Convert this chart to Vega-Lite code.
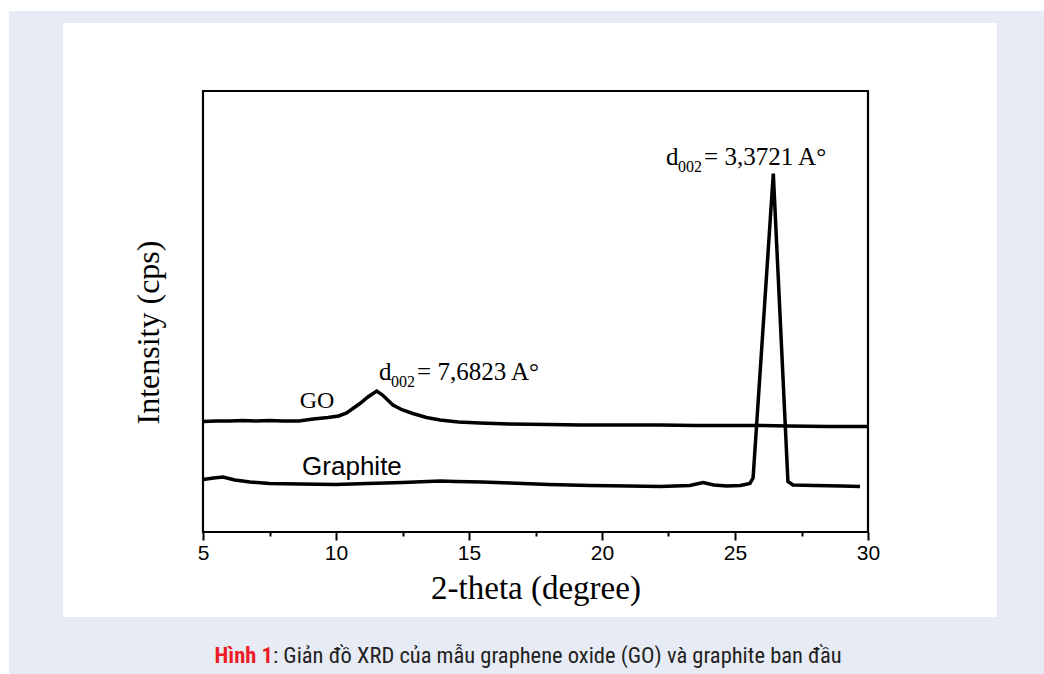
{
  "$schema": "https://vega.github.io/schema/vega-lite/v6.json",
  "width": 665,
  "height": 441,
  "autosize": {"type": "none"},
  "padding": {"left": 203, "top": 91, "right": 176, "bottom": 142},
  "background": "#e7ebf6",
  "config": {"view": {"stroke": null}},
  "datasets": {
    "xrd": [
      {"sample": "GO", "two_theta": 5.0, "intensity": 110.5},
      {"sample": "GO", "two_theta": 5.5, "intensity": 111},
      {"sample": "GO", "two_theta": 6.0, "intensity": 111},
      {"sample": "GO", "two_theta": 6.5, "intensity": 111.5},
      {"sample": "GO", "two_theta": 7.0, "intensity": 111},
      {"sample": "GO", "two_theta": 7.5, "intensity": 111.5},
      {"sample": "GO", "two_theta": 8.0, "intensity": 111},
      {"sample": "GO", "two_theta": 8.6, "intensity": 111},
      {"sample": "GO", "two_theta": 9.15, "intensity": 113},
      {"sample": "GO", "two_theta": 9.7, "intensity": 114.5},
      {"sample": "GO", "two_theta": 10.1, "intensity": 116},
      {"sample": "GO", "two_theta": 10.4, "intensity": 119},
      {"sample": "GO", "two_theta": 10.9, "intensity": 128.5},
      {"sample": "GO", "two_theta": 11.2, "intensity": 135},
      {"sample": "GO", "two_theta": 11.53, "intensity": 141},
      {"sample": "GO", "two_theta": 11.75, "intensity": 137},
      {"sample": "GO", "two_theta": 12.14, "intensity": 127},
      {"sample": "GO", "two_theta": 12.5, "intensity": 122},
      {"sample": "GO", "two_theta": 12.89, "intensity": 118.5},
      {"sample": "GO", "two_theta": 13.4, "intensity": 114.5},
      {"sample": "GO", "two_theta": 13.91, "intensity": 112},
      {"sample": "GO", "two_theta": 14.6, "intensity": 110},
      {"sample": "GO", "two_theta": 15.41, "intensity": 109},
      {"sample": "GO", "two_theta": 16.5, "intensity": 108},
      {"sample": "GO", "two_theta": 18.0, "intensity": 107.5},
      {"sample": "GO", "two_theta": 19.2, "intensity": 107},
      {"sample": "GO", "two_theta": 20.5, "intensity": 107},
      {"sample": "GO", "two_theta": 22.2, "intensity": 107},
      {"sample": "GO", "two_theta": 23.5, "intensity": 106.5},
      {"sample": "GO", "two_theta": 25.0, "intensity": 106.5},
      {"sample": "GO", "two_theta": 26.0, "intensity": 106.5},
      {"sample": "GO", "two_theta": 27.0, "intensity": 106},
      {"sample": "GO", "two_theta": 28.5, "intensity": 105.5},
      {"sample": "GO", "two_theta": 30.0, "intensity": 105.5},
      {"sample": "Graphite", "two_theta": 5.0, "intensity": 52.5},
      {"sample": "Graphite", "two_theta": 5.4, "intensity": 54},
      {"sample": "Graphite", "two_theta": 5.75, "intensity": 55},
      {"sample": "Graphite", "two_theta": 6.2, "intensity": 52},
      {"sample": "Graphite", "two_theta": 6.77, "intensity": 50},
      {"sample": "Graphite", "two_theta": 7.5, "intensity": 48.5},
      {"sample": "Graphite", "two_theta": 8.65, "intensity": 48},
      {"sample": "Graphite", "two_theta": 10.0, "intensity": 47.5},
      {"sample": "Graphite", "two_theta": 11.17, "intensity": 48.5},
      {"sample": "Graphite", "two_theta": 12.5, "intensity": 49.5},
      {"sample": "Graphite", "two_theta": 13.91, "intensity": 51},
      {"sample": "Graphite", "two_theta": 14.5, "intensity": 50.5},
      {"sample": "Graphite", "two_theta": 15.5, "intensity": 50},
      {"sample": "Graphite", "two_theta": 16.54, "intensity": 49},
      {"sample": "Graphite", "two_theta": 18.0, "intensity": 47.5},
      {"sample": "Graphite", "two_theta": 19.55, "intensity": 46.5},
      {"sample": "Graphite", "two_theta": 21.0, "intensity": 46},
      {"sample": "Graphite", "two_theta": 22.18, "intensity": 45.5},
      {"sample": "Graphite", "two_theta": 23.3, "intensity": 46.5},
      {"sample": "Graphite", "two_theta": 23.8, "intensity": 49.5},
      {"sample": "Graphite", "two_theta": 24.2, "intensity": 47},
      {"sample": "Graphite", "two_theta": 24.7, "intensity": 46},
      {"sample": "Graphite", "two_theta": 25.2, "intensity": 46.5},
      {"sample": "Graphite", "two_theta": 25.56, "intensity": 48.5},
      {"sample": "Graphite", "two_theta": 25.68, "intensity": 54},
      {"sample": "Graphite", "two_theta": 26.44, "intensity": 358.5},
      {"sample": "Graphite", "two_theta": 26.99, "intensity": 50.5},
      {"sample": "Graphite", "two_theta": 27.18, "intensity": 47},
      {"sample": "Graphite", "two_theta": 28.0, "intensity": 46.5},
      {"sample": "Graphite", "two_theta": 29.0, "intensity": 46},
      {"sample": "Graphite", "two_theta": 29.7, "intensity": 45.5}
    ],
    "names": [
      {"label": "GO", "two_theta": 9.29, "intensity": 124},
      {"label": "Graphite", "two_theta": 10.6, "intensity": 57}
    ],
    "peaks": [
      {"sample": "GO", "two_theta": 11.62, "intensity": 152, "d": "d", "sub": "002", "rest": "= 7,6823 A°"},
      {"sample": "Graphite", "two_theta": 22.41, "intensity": 367, "d": "d", "sub": "002", "rest": "= 3,3721 A°"}
    ]
  },
  "layer": [
    {
      "data": {"values": [{}]},
      "mark": {"type": "rect", "fill": "white"},
      "encoding": {
        "x": {"datum": -2.64, "type": "quantitative"},
        "x2": {"datum": -2.29},
        "y": {"datum": -150, "type": "quantitative"},
        "y2": {"datum": 540}
      }
    },
    {
      "data": {"values": [{}]},
      "mark": {"type": "rect", "fill": "white"},
      "encoding": {
        "x": {"datum": -2.64, "type": "quantitative"},
        "x2": {"datum": 36.7},
        "y": {"datum": 521, "type": "quantitative"},
        "y2": {"datum": 540}
      }
    },
    {
      "data": {"values": [{}]},
      "mark": {"type": "rect", "fill": "white"},
      "encoding": {
        "x": {"datum": -0.263, "type": "quantitative"},
        "x2": {"datum": 34.85},
        "y": {"datum": -85, "type": "quantitative"},
        "y2": {"datum": 509}
      }
    },
    {
      "data": {"name": "xrd"},
      "mark": {"type": "line", "stroke": "black", "strokeWidth": 3.5, "strokeJoin": "miter"},
      "encoding": {
        "x": {
          "field": "two_theta",
          "type": "quantitative",
          "scale": {"domain": [5, 30], "nice": false, "zero": false},
          "axis": {
            "title": "2-theta (degree)",
            "titleFont": "Liberation Serif",
            "titleFontSize": 33,
            "titleFontWeight": "normal",
            "titleColor": "black",
            "titleY": 66,
            "titleBaseline": "alphabetic",
            "values": [5, 7.5, 10, 12.5, 15, 17.5, 20, 22.5, 25, 27.5, 30],
            "labelExpr": "datum.value % 5 === 0 ? format(datum.value, 'd') : ''",
            "labelFont": "Liberation Sans",
            "labelFontSize": 21,
            "labelColor": "black",
            "labelPadding": 2,
            "labelFlush": false,
            "labelOverlap": false,
            "tickSize": {"condition": {"test": "datum.value % 5 === 0", "value": 8}, "value": 4},
            "tickColor": "black",
            "tickWidth": 2,
            "domain": false,
            "grid": false,
            "zindex": 1
          }
        },
        "y": {
          "field": "intensity",
          "type": "quantitative",
          "scale": {"domain": [0, 441], "nice": false, "zero": false},
          "axis": {
            "title": "Intensity (cps)",
            "titleFont": "Liberation Serif",
            "titleFontSize": 32,
            "titleFontWeight": "normal",
            "titleColor": "black",
            "titleAngle": -90,
            "titleAlign": "center",
            "titleBaseline": "middle",
            "titleX": -55,
            "titleY": 241,
            "labels": false,
            "ticks": false,
            "domain": false,
            "grid": false,
            "zindex": 1
          }
        },
        "detail": {"field": "sample"}
      }
    },
    {
      "data": {"values": [{}]},
      "mark": {"type": "rect", "fill": null, "stroke": "black", "strokeWidth": 2.2},
      "encoding": {
        "x": {"datum": 5, "type": "quantitative"},
        "x2": {"datum": 30},
        "y": {"datum": 0, "type": "quantitative"},
        "y2": {"datum": 441}
      }
    },
    {
      "data": {"name": "names"},
      "transform": [{"filter": "datum.label === 'GO'"}],
      "mark": {"type": "text", "font": "Liberation Serif", "fontSize": 24, "align": "center", "baseline": "alphabetic", "color": "black"},
      "encoding": {
        "x": {"field": "two_theta", "type": "quantitative"},
        "y": {"field": "intensity", "type": "quantitative"},
        "text": {"field": "label"}
      }
    },
    {
      "data": {"name": "names"},
      "transform": [{"filter": "datum.label === 'Graphite'"}],
      "mark": {"type": "text", "font": "Liberation Sans", "fontSize": 26, "align": "center", "baseline": "alphabetic", "color": "black"},
      "encoding": {
        "x": {"field": "two_theta", "type": "quantitative"},
        "y": {"field": "intensity", "type": "quantitative"},
        "text": {"field": "label"}
      }
    },
    {
      "data": {"name": "peaks"},
      "mark": {"type": "text", "font": "Liberation Serif", "fontSize": 25, "align": "left", "baseline": "alphabetic", "color": "black"},
      "encoding": {
        "x": {"field": "two_theta", "type": "quantitative"},
        "y": {"field": "intensity", "type": "quantitative"},
        "text": {"field": "d"}
      }
    },
    {
      "data": {"name": "peaks"},
      "mark": {"type": "text", "font": "Liberation Serif", "fontSize": 16, "align": "left", "baseline": "alphabetic", "color": "black", "dx": 12, "dy": 7},
      "encoding": {
        "x": {"field": "two_theta", "type": "quantitative"},
        "y": {"field": "intensity", "type": "quantitative"},
        "text": {"field": "sub"}
      }
    },
    {
      "data": {"name": "peaks"},
      "mark": {"type": "text", "font": "Liberation Serif", "fontSize": 25, "align": "left", "baseline": "alphabetic", "color": "black", "dx": 38},
      "encoding": {
        "x": {"field": "two_theta", "type": "quantitative"},
        "y": {"field": "intensity", "type": "quantitative"},
        "text": {"field": "rest"}
      }
    },
    {
      "data": {"values": [{}]},
      "mark": {"type": "text", "text": "Hình 1", "font": "Liberation Sans Narrow, Roboto Condensed, Liberation Sans", "fontSize": 22.5, "fontWeight": "bold", "align": "right", "baseline": "alphabetic", "color": "#ee1c25"},
      "encoding": {
        "x": {"datum": 7.63, "type": "quantitative"},
        "y": {"datum": -131, "type": "quantitative"}
      }
    },
    {
      "data": {"values": [{}]},
      "mark": {"type": "text", "text": ": Giản đồ XRD của mẫu graphene oxide (GO) và graphite ban đầu", "font": "Liberation Sans Narrow, Roboto Condensed, Liberation Sans", "fontSize": 22.5, "align": "left", "baseline": "alphabetic", "color": "#231f20"},
      "encoding": {
        "x": {"datum": 7.63, "type": "quantitative"},
        "y": {"datum": -131, "type": "quantitative"}
      }
    }
  ]
}
